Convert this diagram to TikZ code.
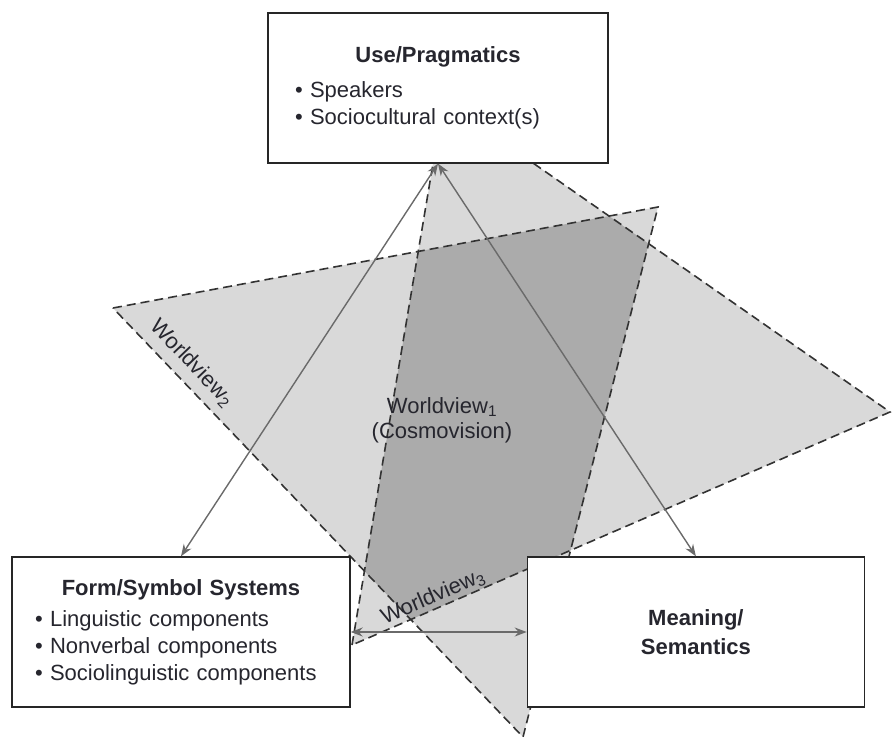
\documentclass[tikz,border=0pt]{standalone}
\usepackage{fontspec}
\setmainfont{Liberation Sans}
\usepackage{xcolor}
\usepackage{tikz}
\usetikzlibrary{positioning,arrows.meta}

\definecolor{planelight}{HTML}{D9D9D9}
\definecolor{planedark}{HTML}{ABABAB}
\definecolor{edgegray}{HTML}{333333}
\definecolor{arrowgray}{HTML}{6A6A6A}
\definecolor{textgray}{HTML}{26262E}

\begin{document}
\begin{tikzpicture}[x=1pt, y=-1pt, font=\fontsize{22}{27}\selectfont,
        every node/.style={text=textgray},
        box/.style={draw=black!85, line width=1.4pt, fill=white, minimum width=338pt, minimum height=150pt, inner sep=0pt},
        dashedge/.style={draw=edgegray, line width=1.6pt, dash pattern=on 9pt off 5pt},
        link/.style={draw=arrowgray, line width=1.4pt, {Stealth[length=12pt,width=9pt]}-{Stealth[length=12pt,width=9pt]}},
        node distance=176pt]
        \useasboundingbox (0,0) rectangle (892,738);

        % Worldview planes
        \coordinate (w2l) at (113,308);
        \coordinate (w2t) at (658,207);
        \coordinate (w2b) at (523,737);
        \coordinate (w3l) at (352,645);
        \coordinate (w3t) at (437,140);
        \coordinate (w3u) at (500,140);
        \coordinate (w3r) at (890,412);
        \fill[planelight] (w2l) -- (w2t) -- (w2b) -- cycle;
        \fill[planelight] (w3l) -- (w3t) -- (w3u) -- (w3r) -- cycle;
        \begin{scope}
            \clip (w2l) -- (w2t) -- (w2b) -- cycle;
            \fill[planedark] (w3l) -- (w3t) -- (w3u) -- (w3r) -- cycle;
        \end{scope}
        \draw[dashedge] (w2l) -- (w2t) -- (w2b) -- cycle;
        \draw[dashedge] (w3l) -- (w3t) -- (w3u) -- (w3r) -- cycle;

        % Plane labels
        \node[rotate=-46.3] (wv2) at (192,363) {Worldview\textsubscript{2}};
        \node[align=center] (wv1) at (442,420) {Worldview\textsubscript{1}\\[-2pt](Cosmovision)};
        \node[rotate=23.3] (wv3) at (433,597) {Worldview\textsubscript{3}};

        % Nodes
        \node[box, minimum width=340pt, text width=286pt, align=left] (use) at (438,88)
            {\makebox[\hsize]{\textbf{Use/Pragmatics}}\\[8pt]\textbullet\ Speakers\\ \textbullet\ Sociocultural context(s)};
        \node[box, text width=292pt, align=left] (form) at (181,632)
            {\makebox[\hsize]{\textbf{Form/Symbol Systems}}\\[4pt]\textbullet\ Linguistic components\\ \textbullet\ Nonverbal components\\ \textbullet\ Sociolinguistic components};
        \node[box, minimum width=337pt, align=center, font=\bfseries\fontsize{22}{29}\selectfont, right=of form] (meaning)
            {Meaning/\\Semantics};

        % Arrows
        \draw[link] (use.south) -- (form.north);
        \draw[link] (use.south) -- (meaning.north);
        \draw[link] (form.east) -- (meaning.west);
    \end{tikzpicture}
\end{document}
